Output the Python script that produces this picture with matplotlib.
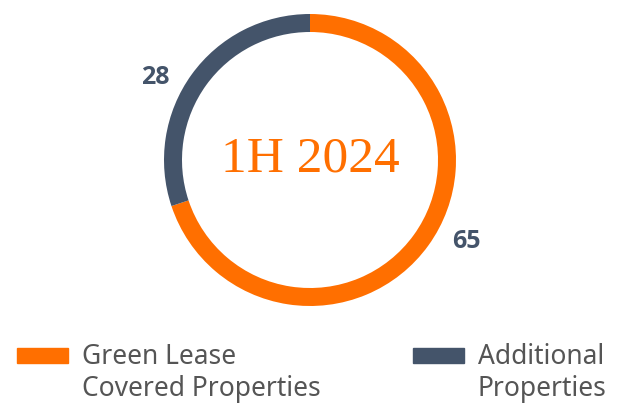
import matplotlib.pyplot as plt
from matplotlib.patches import Rectangle

labels = ["Green Lease\nCovered Properties", "Additional\nProperties"]
values = [65, 28]
colors = ["#FF6F00", "#44546A"]
center_title = "1H 2024"

W, H = 621, 403
fig = plt.figure(figsize=(W / 100, H / 100), dpi=100)
ax = fig.add_axes([0, 0, 1, 1])

cx, cy, r = 310, H - 160, 146
wedges, _ = ax.pie(values, colors=colors, startangle=90, counterclock=False,
                   center=(cx, cy), radius=r, frame=True,
                   wedgeprops=dict(width=18, edgecolor="none"))
ax.set_xlim(0, W)
ax.set_ylim(0, H)
ax.set_aspect("equal")
ax.axis("off")

ax.text(cx, cy + 1, center_title, ha="center", va="center", color=colors[0],
        fontsize=37, family="Liberation Serif")

# value labels
ax.text(466, H - 242, str(values[0]), ha="center", va="center",
        color=colors[1], fontsize=18, fontweight="bold", family="Open Sans")
ax.text(155, H - 78, str(values[1]), ha="center", va="center",
        color=colors[1], fontsize=18, fontweight="bold", family="Open Sans")

# legend
legend_x = [17, 413]
for x, lab, col in zip(legend_x, labels, colors):
    ax.add_patch(Rectangle((x, H - 363), 51, 15, color=col))
    ax.text(x + 65, H - 343, lab, ha="left", va="top", color="#555555",
            fontsize=19, family="Noto Sans", linespacing=1.2)

fig.savefig("out.png", dpi=100)
